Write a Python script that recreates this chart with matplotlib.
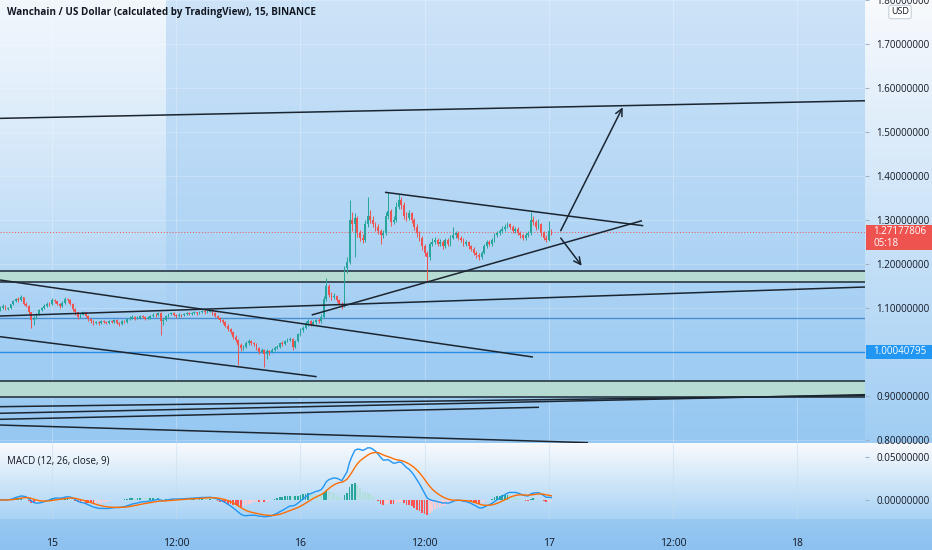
import numpy as np
import matplotlib.pyplot as plt
from matplotlib.patches import Rectangle

plt.rcParams['font.family'] = ['Open Sans', 'DejaVu Sans']

# 15 minute candles, first bar at 14th 19:00 (hours counted from the 15th 00:00)
first_time = -5.0
bar_hours = 0.25
first_open = 1.095
closes = [
    1.100, 1.105, 1.098, 1.100, 1.108, 1.115, 1.120, 1.118, 1.125, 1.110,
    1.105, 1.090, 1.072, 1.078, 1.085, 1.095, 1.100, 1.105, 1.110, 1.108,
    1.118, 1.115, 1.110, 1.105, 1.112, 1.120, 1.118, 1.110, 1.098, 1.090,
    1.080, 1.085, 1.090, 1.082, 1.075, 1.070, 1.065, 1.068, 1.066, 1.070,
    1.068, 1.066, 1.070, 1.068, 1.072, 1.066, 1.064, 1.070, 1.068, 1.075,
    1.078, 1.080, 1.076, 1.078, 1.082, 1.080, 1.076, 1.078, 1.082, 1.085,
    1.083, 1.088, 1.070, 1.072, 1.082, 1.086, 1.088, 1.084, 1.082, 1.085,
    1.083, 1.086, 1.088, 1.087, 1.089, 1.090, 1.088, 1.091, 1.093, 1.090,
    1.092, 1.094, 1.088, 1.082, 1.078, 1.072, 1.068, 1.060, 1.052, 1.045,
    1.035, 1.028, 1.015, 1.008, 1.012, 1.020, 1.025, 1.020, 1.018, 1.010,
    1.000, 1.005, 0.995, 1.002, 1.000, 1.005, 1.010, 1.012, 1.020, 1.018,
    1.025, 1.028, 1.030, 1.012, 1.025, 1.040, 1.050, 1.055, 1.065, 1.070,
    1.062, 1.068, 1.072, 1.070, 1.080, 1.120, 1.150, 1.130, 1.125, 1.128,
    1.118, 1.110, 1.105, 1.190, 1.205, 1.300, 1.290, 1.305, 1.270, 1.260,
    1.255, 1.290, 1.310, 1.300, 1.290, 1.285, 1.275, 1.265, 1.270, 1.310,
    1.320, 1.295, 1.300, 1.330, 1.345, 1.335, 1.310, 1.305, 1.315, 1.300,
    1.285, 1.270, 1.260, 1.240, 1.225, 1.215, 1.245, 1.250, 1.255, 1.245,
    1.250, 1.240, 1.255, 1.245, 1.260, 1.265, 1.270, 1.260, 1.255, 1.245,
    1.250, 1.240, 1.235, 1.225, 1.220, 1.215, 1.225, 1.240, 1.250, 1.245,
    1.255, 1.265, 1.270, 1.275, 1.280, 1.285, 1.290, 1.285, 1.275, 1.280,
    1.270, 1.265, 1.260, 1.265, 1.270, 1.300, 1.295, 1.285, 1.290, 1.270,
    1.260, 1.255, 1.275, 1.27177806,
]
highs = [
    1.104, 1.108, 1.107, 1.103, 1.110, 1.118, 1.123, 1.124, 1.130, 1.126,
    1.113, 1.107, 1.092, 1.082, 1.088, 1.098, 1.103, 1.108, 1.114, 1.113,
    1.123, 1.121, 1.117, 1.112, 1.115, 1.125, 1.123, 1.120, 1.112, 1.100,
    1.092, 1.089, 1.093, 1.092, 1.084, 1.078, 1.073, 1.071, 1.070, 1.073,
    1.072, 1.070, 1.073, 1.072, 1.075, 1.074, 1.069, 1.073, 1.072, 1.078,
    1.081, 1.083, 1.082, 1.081, 1.085, 1.084, 1.082, 1.081, 1.085, 1.088,
    1.088, 1.092, 1.090, 1.078, 1.085, 1.089, 1.091, 1.090, 1.086, 1.088,
    1.087, 1.089, 1.091, 1.090, 1.092, 1.093, 1.092, 1.094, 1.096, 1.095,
    1.095, 1.097, 1.096, 1.090, 1.084, 1.080, 1.075, 1.070, 1.063, 1.055,
    1.047, 1.038, 1.030, 1.020, 1.016, 1.024, 1.030, 1.028, 1.023, 1.020,
    1.012, 1.009, 1.007, 1.006, 1.005, 1.009, 1.014, 1.016, 1.023, 1.024,
    1.028, 1.032, 1.034, 1.032, 1.028, 1.044, 1.054, 1.060, 1.070, 1.074,
    1.073, 1.072, 1.076, 1.078, 1.086, 1.128, 1.168, 1.155, 1.136, 1.133,
    1.130, 1.121, 1.114, 1.195, 1.215, 1.345, 1.318, 1.315, 1.310, 1.278,
    1.268, 1.300, 1.352, 1.322, 1.308, 1.296, 1.290, 1.280, 1.278, 1.318,
    1.364, 1.326, 1.310, 1.340, 1.360, 1.352, 1.340, 1.318, 1.322, 1.318,
    1.305, 1.290, 1.275, 1.264, 1.245, 1.230, 1.250, 1.258, 1.262, 1.260,
    1.256, 1.254, 1.260, 1.258, 1.265, 1.284, 1.276, 1.274, 1.264, 1.258,
    1.255, 1.253, 1.244, 1.238, 1.230, 1.224, 1.230, 1.245, 1.255, 1.254,
    1.260, 1.270, 1.276, 1.280, 1.286, 1.290, 1.296, 1.293, 1.288, 1.285,
    1.283, 1.274, 1.268, 1.270, 1.275, 1.318, 1.310, 1.300, 1.302, 1.294,
    1.275, 1.265, 1.298, 1.280,
]
lows = [
    1.093, 1.098, 1.095, 1.096, 1.098, 1.106, 1.113, 1.114, 1.116, 1.107,
    1.102, 1.086, 1.055, 1.062, 1.075, 1.083, 1.093, 1.098, 1.103, 1.104,
    1.106, 1.111, 1.107, 1.101, 1.103, 1.110, 1.114, 1.106, 1.094, 1.084,
    1.076, 1.078, 1.083, 1.079, 1.071, 1.066, 1.061, 1.063, 1.062, 1.064,
    1.065, 1.063, 1.064, 1.065, 1.066, 1.063, 1.060, 1.062, 1.065, 1.066,
    1.073, 1.076, 1.073, 1.074, 1.076, 1.077, 1.072, 1.074, 1.076, 1.080,
    1.080, 1.081, 1.039, 1.062, 1.070, 1.080, 1.084, 1.081, 1.078, 1.080,
    1.080, 1.081, 1.084, 1.084, 1.085, 1.087, 1.085, 1.086, 1.089, 1.087,
    1.088, 1.090, 1.085, 1.079, 1.074, 1.068, 1.064, 1.056, 1.048, 1.040,
    1.030, 1.022, 0.970, 1.003, 1.004, 1.010, 1.017, 1.016, 1.013, 1.005,
    0.995, 0.997, 0.966, 0.985, 0.994, 0.997, 1.002, 1.006, 1.009, 1.014,
    1.015, 1.022, 1.025, 1.005, 1.010, 1.022, 1.037, 1.046, 1.052, 1.060,
    1.058, 1.059, 1.064, 1.066, 1.067, 1.077, 1.115, 1.125, 1.118, 1.120,
    1.113, 1.106, 1.098, 1.102, 1.180, 1.200, 1.275, 1.215, 1.262, 1.252,
    1.247, 1.250, 1.285, 1.293, 1.283, 1.275, 1.268, 1.245, 1.258, 1.265,
    1.302, 1.287, 1.290, 1.296, 1.325, 1.326, 1.302, 1.298, 1.300, 1.293,
    1.278, 1.262, 1.252, 1.232, 1.218, 1.160, 1.210, 1.240, 1.246, 1.240,
    1.240, 1.234, 1.236, 1.240, 1.242, 1.256, 1.260, 1.255, 1.250, 1.240,
    1.241, 1.234, 1.229, 1.220, 1.214, 1.208, 1.212, 1.222, 1.236, 1.240,
    1.242, 1.251, 1.261, 1.266, 1.271, 1.276, 1.281, 1.280, 1.270, 1.271,
    1.265, 1.258, 1.254, 1.255, 1.261, 1.266, 1.288, 1.278, 1.280, 1.264,
    1.254, 1.249, 1.252, 1.266,
]

# drawings on the chart: ((hour, price), (hour, price))
trend_lines = [
    ((-5.02, 1.531), (78.55, 1.571)),
    ((-5.02, 1.1636), (46.47, 0.9886)),
    ((-5.02, 1.0348), (25.57, 0.9439)),
    ((-5.02, 1.0818), (78.55, 1.1477)),
    ((25.09, 1.0841), (57.00, 1.2984)),
    ((32.17, 1.3630), (57.13, 1.2870)),
    ((-5.02, 0.8757), (78.55, 0.9011)),
    ((-5.02, 0.8607), (78.55, 0.9030)),
    ((-5.02, 0.8470), (47.05, 0.8743)),
    ((-5.02, 0.8340), (51.79, 0.7940)),
]
arrows = [
    ((49.15, 1.2757), (55.14, 1.5561)),
    ((49.15, 1.2590), (51.18, 1.1960)),
]
zones = [(1.1584, 1.1841), (0.8984, 0.9348)]
blue_levels = [1.078, 1.00040795]
last_price = 1.27177806

price_ticks = [0.8, 0.9, 1.0, 1.1, 1.2, 1.3, 1.4, 1.5, 1.6, 1.7, 1.8]
macd_ticks = [0.0, 0.05]
time_ticks = [0, 12, 24, 36, 48, 60, 72]
time_labels = ['15', '12:00', '16', '12:00', '17', '12:00', '18']

UP = '#26a69a'
DOWN = '#ef5350'
INK = '#131722'

# ---- derived series ----
closes = np.array(closes)
opens = np.concatenate([[first_open], closes[:-1]])
highs = np.array(highs)
lows = np.array(lows)
times = first_time + bar_hours * np.arange(len(closes))


def ema(values, span):
    alpha = 2.0 / (span + 1)
    out = np.empty(len(values))
    out[0] = values[0]
    for k in range(1, len(values)):
        out[k] = alpha * values[k] + (1 - alpha) * out[k - 1]
    return out


macd = ema(closes, 12) - ema(closes, 26)
signal = ema(macd, 9)
hist = macd - signal

# ---- figure & background ----
W, H = 932, 550
fig = plt.figure(figsize=(W / 100, H / 100), dpi=100)

rows = np.arange(H)[:, None, None].astype(float)
cols = np.arange(W)[None, :, None].astype(float)
bg = np.zeros((H, W, 3))
f = np.clip(rows / 443.0, 0, 1)
main_bg = np.array([205, 227, 248]) * (1 - f) + np.array([150, 200, 242]) * f
a = np.clip(0.8 * (1 - rows / 320.0), 0, 1) * (cols < 166)
main_bg = main_bg * (1 - a) + np.array([250, 252, 254]) * a
axis_bg = np.array([248, 250, 253]) * (1 - f) + np.array([160, 205, 243]) * f
bg[:] = np.where(cols < 865, main_bg, axis_bg)
g = np.clip((rows - 443) / 76.0, 0, 1)
macd_bg = np.array([248, 250, 253]) * (1 - g) + np.array([168, 210, 245]) * g
bg = np.where((rows >= 443) & (rows < 519), macd_bg, bg)
h = np.clip((rows - 519) / 31.0, 0, 1)
time_bg = np.array([152, 200, 242]) * (1 - h) + np.array([140, 193, 240]) * h
bg = np.where(rows >= 519, np.broadcast_to(time_bg, (H, W, 3)), bg)
fig.figimage(bg.astype(np.uint8), 0, 0, origin='upper', zorder=-10)


def fbox(x0, y0, x1, y1):
    return [x0 / W, 1 - y1 / H, (x1 - x0) / W, (y1 - y0) / H]


ax = fig.add_axes(fbox(0, 0, 865, 443))
mx = fig.add_axes(fbox(0, 443, 865, 519), sharex=ax)
for axx in (ax, mx):
    axx.set_facecolor('none')
    for s in axx.spines.values():
        s.set_visible(False)

x_left = (0 - 52) / 10.35
x_right = (865 - 52) / 10.35
ax.set_xlim(x_left, x_right)
ax.set_ylim(1.8 - 443 / 440, 1.8)

# grid
for t in time_ticks:
    ax.axvline(t, color='white', lw=0.8, alpha=0.25, zorder=0)
    mx.axvline(t, color='#c8dcef', lw=0.8, alpha=0.5, zorder=0)
for p in price_ticks:
    ax.axhline(p, color='white', lw=0.8, alpha=0.2, zorder=0)

# zones and levels
for lo, hi in zones:
    ax.axhspan(lo, hi, color='#b8ddd0', alpha=0.9, lw=0, zorder=1)
    ax.axhline(lo, color='#33434f', lw=1.3, zorder=1.5)
    ax.axhline(hi, color='#33434f', lw=1.3, zorder=1.5)
ax.axhline(blue_levels[0], color='#4a8fd2', lw=1.0, zorder=1.5)
ax.axhline(blue_levels[1], color='#2b8ee6', lw=1.0, zorder=1.5)
ax.axhline(last_price, color=DOWN, lw=0.7, ls=(0, (1, 2)), zorder=1.5)

# candles
up = closes >= opens
colors = np.where(up, UP, DOWN)
ax.vlines(times, lows, highs, colors=colors, lw=0.7, zorder=2)
body_lo = np.minimum(opens, closes)
body_h = np.maximum(np.abs(closes - opens), 0.0015)
ax.bar(times, body_h, bottom=body_lo, width=0.17, color=colors, lw=0, zorder=2.5)

# drawings
for (t0, p0), (t1, p1) in trend_lines:
    ax.plot([t0, t1], [p0, p1], color='#1b2530', lw=1.1, zorder=3,
            solid_capstyle='butt')
for (t0, p0), (t1, p1) in arrows:
    ax.annotate('', xy=(t1, p1), xytext=(t0, p0),
                arrowprops=dict(arrowstyle='->,head_length=0.5,head_width=0.25',
                                color='#1b2530', lw=1.1, shrinkA=0, shrinkB=0),
                zorder=3)

# price axis (the 1.0 label sits under the blue level badge)
ax.yaxis.tick_right()
ax.set_yticks(price_ticks)
ax.set_yticklabels(['' if p == 1.0 else f'{p:.8f}' for p in price_ticks])
ax.tick_params(axis='y', length=3, color='#9fb4c8', pad=5, labelsize=7,
               labelcolor=INK)
ax.tick_params(axis='x', length=0, labelbottom=False)

# MACD panel
mx.set_ylim(-19 / 860, 0.05 + 14 / 860)
hist_colors = []
for k in range(len(hist)):
    prev = hist[k - 1] if k > 0 else 0
    if hist[k] >= 0:
        hist_colors.append('#26a69a' if hist[k] >= prev else '#b2dfdb')
    else:
        hist_colors.append('#ffcdd2' if hist[k] >= prev else '#ff5252')
mx.bar(times, hist, width=0.17, color=hist_colors, lw=0, zorder=2)
mx.plot(times, macd, color='#2196f3', lw=1.0, zorder=3)
mx.plot(times, signal, color='#ff6d00', lw=1.0, zorder=3)
mx.yaxis.tick_right()
mx.set_yticks(macd_ticks)
mx.set_yticklabels([f'{p:.8f}' for p in macd_ticks])
mx.tick_params(axis='y', length=3, color='#9fb4c8', pad=5, labelsize=7,
               labelcolor=INK)
mx.set_xticks(time_ticks)
mx.set_xticklabels(time_labels)
mx.tick_params(axis='x', length=0, pad=14, labelsize=7.5, labelcolor=INK)
mx.set_xlim(x_left, x_right)

# title, panel label and axis badges
fig.text(7 / W, 1 - 12 / H, 'Wanchain / US Dollar (calculated by TradingView), 15, BINANCE',
         ha='left', va='center', fontsize=7.1, fontweight='bold', color=INK)
fig.text(7 / W, 1 - 461 / H, 'MACD (12, 26, close, 9)', ha='left', va='center',
         fontsize=7, color=INK)
fig.text(900 / W, 1 - 12 / H, 'USD', ha='center', va='center', fontsize=6.5, color=INK,
         bbox=dict(boxstyle='round,pad=0.25', fc='white', ec='#b8c4d0', lw=0.6))

fig.add_artist(Rectangle(fbox(866, 225, 932, 250)[:2], 66 / W, 25 / H,
                         transform=fig.transFigure, color='#ef5350', lw=0))
fig.text(873 / W, 1 - 232 / H, '1.27177806', ha='left', va='center', fontsize=7, color='white')
fig.text(873 / W, 1 - 243.5 / H, '05:18', ha='left', va='center', fontsize=7, color='white')
fig.add_artist(Rectangle(fbox(866, 345, 932, 359)[:2], 66 / W, 14 / H,
                         transform=fig.transFigure, color='#2196f3', lw=0))
fig.text(873 / W, 1 - 352 / H, '1.00040795', ha='left', va='center', fontsize=7, color='white')

fig.savefig('out.png', dpi=100)
